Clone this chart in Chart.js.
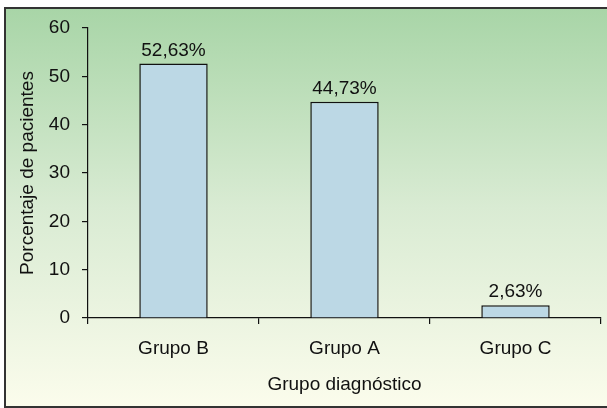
<!DOCTYPE html>
<html>
<head>
<meta charset="utf-8">
<script src="https://cdn.jsdelivr.net/npm/chart.js@4.4.1/dist/chart.umd.min.js"></script>
<style>
  html, body { margin: 0; padding: 0; background: #ffffff; }
  #wrap { width: 607px; height: 408px; position: relative; }
</style>
</head>
<body>
<div id="wrap"><canvas id="c" width="607" height="408"></canvas></div>
<script>
const categories = ["Grupo B", "Grupo A", "Grupo C"];
const values = [52.63, 44.73, 2.63];
const yTicks = [0, 10, 20, 30, 40, 50, 60];
const yTitle = "Porcentaje de pacientes";
const xTitle = "Grupo diagnóstico";

const FONT = "'Liberation Sans', Arial, Helvetica, sans-serif";

const bgPlugin = {
  id: 'bg',
  beforeDraw(chart) {
    const ctx = chart.ctx;
    const w = chart.width, h = chart.height;
    ctx.save();
    ctx.fillStyle = '#ffffff';
    ctx.fillRect(0, 0, w, h);
    const g = ctx.createLinearGradient(0, 8, 0, 407);
    g.addColorStop(0, '#a8d5a7');
    g.addColorStop(0.5, '#d9ebd3');
    g.addColorStop(1, '#fbfcec');
    ctx.fillStyle = g;
    ctx.fillRect(6, 8, w - 6, 399);
    ctx.strokeStyle = '#333333';
    ctx.lineWidth = 2;
    ctx.beginPath();
    ctx.moveTo(w + 2, 8);
    ctx.lineTo(5, 8);
    ctx.lineTo(5, 407);
    ctx.lineTo(w + 2, 407);
    ctx.stroke();
    ctx.restore();
  }
};

const labelPlugin = {
  id: 'vlabels',
  afterDatasetsDraw(chart) {
    const ctx = chart.ctx;
    const meta = chart.getDatasetMeta(0);
    ctx.save();
    ctx.font = "19px " + FONT;
    ctx.fillStyle = '#111111';
    ctx.textAlign = 'center';
    ctx.textBaseline = 'alphabetic';
    meta.data.forEach((bar, i) => {
      const txt = values[i].toFixed(2).replace('.', ',') + '%';
      ctx.fillText(txt, bar.x, bar.y - 8);
    });
    ctx.restore();
  }
};

new Chart(document.getElementById('c'), {
  type: 'bar',
  data: {
    labels: categories,
    datasets: [{
      data: values,
      backgroundColor: '#bcd8e5',
      borderColor: '#111111',
      borderWidth: 1.5,
      categoryPercentage: 0.4,
      barPercentage: 1.0
    }]
  },
  options: {
    responsive: false,
    animation: false,
    devicePixelRatio: 1,
    layout: { padding: { left: 6, top: 28, right: 6, bottom: 0 } },
    plugins: { legend: { display: false }, tooltip: { enabled: false } },
    scales: {
      y: {
        min: 0, max: 60,
        afterBuildTicks(scale) { scale.ticks = yTicks.map(v => ({ value: v })); },
        afterFit(scale) { scale.width = 82; },
        border: { display: true, color: '#111111', width: 1.2 },
        grid: { drawOnChartArea: false, drawTicks: true, tickLength: 6, color: '#111111', lineWidth: 1.2 },
        ticks: { color: '#111111', font: { size: 19, family: FONT }, padding: 12 },
        title: { display: true, text: yTitle, color: '#111111', font: { size: 19, family: FONT }, padding: { top: 10, bottom: 0 } }
      },
      x: {
        afterFit(scale) { scale.height = 90; },
        border: { display: true, color: '#111111', width: 1.2 },
        grid: { offset: true, drawOnChartArea: false, drawTicks: true, tickLength: 6, color: '#111111', lineWidth: 1.2 },
        ticks: { color: '#111111', font: { size: 19, family: FONT }, padding: 13, maxRotation: 0 },
        title: { display: true, text: xTitle, color: '#111111', font: { size: 19, family: FONT }, padding: { top: 8, bottom: 12 } }
      }
    }
  },
  plugins: [bgPlugin, labelPlugin]
});
</script>
</body>
</html>
